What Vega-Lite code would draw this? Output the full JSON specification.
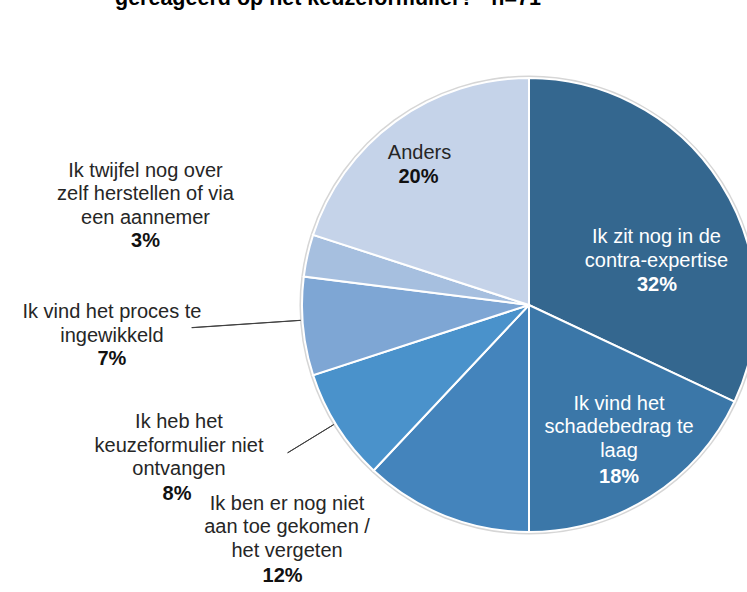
{
  "$schema": "https://vega.github.io/schema/vega-lite/v6.json",
  "autosize": "none",
  "width": 436,
  "height": 560,
  "padding": {"left": 311, "top": 25, "right": 0, "bottom": 7},
  "background": "white",
  "title": {
    "text": "gereageerd op het keuzeformulier?\u00a0\u00a0 n=71",
    "anchor": "start",
    "frame": "group",
    "dx": -196,
    "offset": 0,
    "dy": 103,
    "font": "Liberation Sans",
    "fontSize": 21.5,
    "fontWeight": "bold",
    "color": "#000000",
    "baseline": "alphabetic"
  },
  "config": {
    "view": {"stroke": null},
    "text": {"font": "Liberation Sans", "fontSize": 20, "lineBreak": "\n", "lineHeight": 23.5}
  },
  "data": {
    "values": [
      {"cat": "Ik zit nog in de contra-expertise", "label": "Ik zit nog in de\ncontra-expertise", "value": 32, "pct": "32%", "ord": 1},
      {"cat": "Ik vind het schadebedrag te laag", "label": "Ik vind het\nschadebedrag te\nlaag", "value": 18, "pct": "18%", "ord": 2},
      {"cat": "Ik ben er nog niet aan toe gekomen / het vergeten", "label": "Ik ben er nog niet\naan toe gekomen  /\nhet vergeten", "value": 12, "pct": "12%", "ord": 3},
      {"cat": "Ik heb het keuzeformulier niet ontvangen", "label": "Ik heb het\nkeuzeformulier  niet\nontvangen", "value": 8, "pct": "8%", "ord": 4},
      {"cat": "Ik vind het proces te ingewikkeld", "label": "Ik vind het proces te\ningewikkeld", "value": 7, "pct": "7%", "ord": 5},
      {"cat": "Ik twijfel nog over zelf herstellen of via een aannemer", "label": "Ik twijfel nog over\nzelf herstellen of via\neen aannemer", "value": 3, "pct": "3%", "ord": 6},
      {"cat": "Anders", "label": "Anders", "value": 20, "pct": "20%", "ord": 7}
    ]
  },
  "layer": [
    {
      "mark": {"type": "arc", "radius": 229.5, "fill": "#d6d6d6"},
      "encoding": {
        "theta": {"field": "value", "type": "quantitative", "stack": true},
        "order": {"field": "ord", "type": "quantitative"}
      }
    },
    {
      "mark": {"type": "arc", "radius": 227, "stroke": "#ffffff", "strokeWidth": 2},
      "encoding": {
        "theta": {"field": "value", "type": "quantitative", "stack": true},
        "order": {"field": "ord", "type": "quantitative"},
        "color": {
          "field": "cat",
          "type": "nominal",
          "legend": null,
          "scale": {
            "domain": [
              "Ik zit nog in de contra-expertise",
              "Ik vind het schadebedrag te laag",
              "Ik ben er nog niet aan toe gekomen / het vergeten",
              "Ik heb het keuzeformulier niet ontvangen",
              "Ik vind het proces te ingewikkeld",
              "Ik twijfel nog over zelf herstellen of via een aannemer",
              "Anders"
            ],
            "range": ["#34678f", "#3b77a8", "#4484bc", "#4a92cb", "#7ea6d4", "#a6bfdf", "#c5d3e9"]
          }
        }
      }
    },
    {
      "transform": [{"filter": "datum.ord === 1"}],
      "mark": {"type": "arc", "theta": 4.645, "theta2": 4.6456, "radius": 338, "radius2": 229, "fill": null, "stroke": "#404040", "strokeWidth": 1},
      "encoding": {}
    },
    {
      "transform": [{"filter": "datum.ord === 1"}],
      "mark": {"type": "arc", "theta": 4.1626, "theta2": 4.1632, "radius": 283, "radius2": 229, "fill": null, "stroke": "#404040", "strokeWidth": 1},
      "encoding": {}
    },
    {"mark": {"type": "text", "radius": 140.7, "dx": 8.7, "dy": 13.7, "align": "center", "baseline": "alphabetic", "color": "#ffffff"},
     "encoding": {"theta": {"field": "value", "type": "quantitative", "stack": true}, "order": {"field": "ord", "type": "quantitative"},
       "text": {"condition": {"test": "datum.ord === 1", "field": "label", "type": "nominal"}, "value": ""}}},
    {"mark": {"type": "text", "radius": 140.7, "dx": 9.2, "dy": 61.4, "align": "center", "baseline": "alphabetic", "color": "#ffffff", "fontWeight": "bold"},
     "encoding": {"theta": {"field": "value", "type": "quantitative", "stack": true}, "order": {"field": "ord", "type": "quantitative"},
       "text": {"condition": {"test": "datum.ord === 1", "field": "pct", "type": "nominal"}, "value": ""}}},
    {"mark": {"type": "text", "radius": 136.9, "dx": 16.7, "dy": -10.6, "align": "center", "baseline": "alphabetic", "color": "#ffffff"},
     "encoding": {"theta": {"field": "value", "type": "quantitative", "stack": true}, "order": {"field": "ord", "type": "quantitative"},
       "text": {"condition": {"test": "datum.ord === 2", "field": "label", "type": "nominal"}, "value": ""}}},
    {"mark": {"type": "text", "radius": 136.9, "dx": 16.7, "dy": 62.1, "align": "center", "baseline": "alphabetic", "color": "#ffffff", "fontWeight": "bold"},
     "encoding": {"theta": {"field": "value", "type": "quantitative", "stack": true}, "order": {"field": "ord", "type": "quantitative"},
       "text": {"condition": {"test": "datum.ord === 2", "field": "pct", "type": "nominal"}, "value": ""}}},
    {"mark": {"type": "text", "radius": 279.7, "dx": -139.0, "dy": -55.1, "align": "center", "baseline": "alphabetic", "color": "#262626"},
     "encoding": {"theta": {"field": "value", "type": "quantitative", "stack": true}, "order": {"field": "ord", "type": "quantitative"},
       "text": {"condition": {"test": "datum.ord === 3", "field": "label", "type": "nominal"}, "value": ""}}},
    {"mark": {"type": "text", "radius": 279.7, "dx": -143.5, "dy": 16.6, "align": "center", "baseline": "alphabetic", "color": "#111111", "fontWeight": "bold"},
     "encoding": {"theta": {"field": "value", "type": "quantitative", "stack": true}, "order": {"field": "ord", "type": "quantitative"},
       "text": {"condition": {"test": "datum.ord === 3", "field": "pct", "type": "nominal"}, "value": ""}}},
    {"mark": {"type": "text", "radius": 361.6, "dx": -44.7, "dy": -70.4, "align": "center", "baseline": "alphabetic", "color": "#262626"},
     "encoding": {"theta": {"field": "value", "type": "quantitative", "stack": true}, "order": {"field": "ord", "type": "quantitative"},
       "text": {"condition": {"test": "datum.ord === 4", "field": "label", "type": "nominal"}, "value": ""}}},
    {"mark": {"type": "text", "radius": 361.6, "dx": -46.7, "dy": 1.3, "align": "center", "baseline": "alphabetic", "color": "#111111", "fontWeight": "bold"},
     "encoding": {"theta": {"field": "value", "type": "quantitative", "stack": true}, "order": {"field": "ord", "type": "quantitative"},
       "text": {"condition": {"test": "datum.ord === 4", "field": "pct", "type": "nominal"}, "value": ""}}},
    {"mark": {"type": "text", "radius": 416.4, "dx": -2.5, "dy": -25.9, "align": "center", "baseline": "alphabetic", "color": "#262626"},
     "encoding": {"theta": {"field": "value", "type": "quantitative", "stack": true}, "order": {"field": "ord", "type": "quantitative"},
       "text": {"condition": {"test": "datum.ord === 5", "field": "label", "type": "nominal"}, "value": ""}}},
    {"mark": {"type": "text", "radius": 416.4, "dx": -2.5, "dy": 20.8, "align": "center", "baseline": "alphabetic", "color": "#111111", "fontWeight": "bold"},
     "encoding": {"theta": {"field": "value", "type": "quantitative", "stack": true}, "order": {"field": "ord", "type": "quantitative"},
       "text": {"condition": {"test": "datum.ord === 5", "field": "pct", "type": "nominal"}, "value": ""}}},
    {"mark": {"type": "text", "radius": 402.3, "dx": 9.1, "dy": -40.5, "align": "center", "baseline": "alphabetic", "color": "#262626"},
     "encoding": {"theta": {"field": "value", "type": "quantitative", "stack": true}, "order": {"field": "ord", "type": "quantitative"},
       "text": {"condition": {"test": "datum.ord === 6", "field": "label", "type": "nominal"}, "value": ""}}},
    {"mark": {"type": "text", "radius": 402.3, "dx": 9.1, "dy": 30.1, "align": "center", "baseline": "alphabetic", "color": "#111111", "fontWeight": "bold"},
     "encoding": {"theta": {"field": "value", "type": "quantitative", "stack": true}, "order": {"field": "ord", "type": "quantitative"},
       "text": {"condition": {"test": "datum.ord === 6", "field": "pct", "type": "nominal"}, "value": ""}}},
    {"mark": {"type": "text", "radius": 182.2, "dx": -2.4, "dy": 1.7, "align": "center", "baseline": "alphabetic", "color": "#262626"},
     "encoding": {"theta": {"field": "value", "type": "quantitative", "stack": true}, "order": {"field": "ord", "type": "quantitative"},
       "text": {"condition": {"test": "datum.ord === 7", "field": "label", "type": "nominal"}, "value": ""}}},
    {"mark": {"type": "text", "radius": 182.2, "dx": -3.4, "dy": 25.7, "align": "center", "baseline": "alphabetic", "color": "#111111", "fontWeight": "bold"},
     "encoding": {"theta": {"field": "value", "type": "quantitative", "stack": true}, "order": {"field": "ord", "type": "quantitative"},
       "text": {"condition": {"test": "datum.ord === 7", "field": "pct", "type": "nominal"}, "value": ""}}}
  ]
}
